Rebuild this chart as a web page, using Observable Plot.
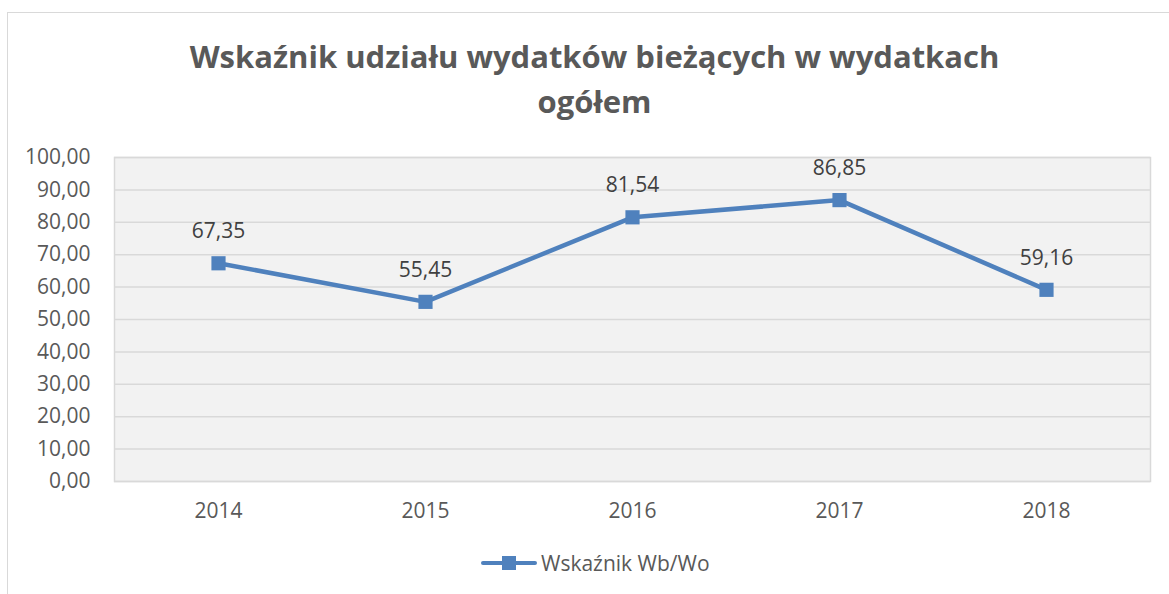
<!DOCTYPE html>
<html>
<head>
<meta charset="utf-8">
<script src="https://cdn.jsdelivr.net/npm/d3@7"></script>
<script src="https://cdn.jsdelivr.net/npm/@observablehq/plot@0.6"></script>
<style>
  html, body { margin: 0; padding: 0; background: #fff; }
  #wrap { position: relative; width: 1169px; height: 594px; overflow: hidden; font-family: "Open Sans", sans-serif; }
  #border { position: absolute; left: 7px; top: 12px; width: 1200px; height: 700px; border: 1.5px solid #d9d9d9; box-sizing: border-box; }
  #title { position: absolute; left: 10px; width: 1169px; top: 34px; text-align: center; font-weight: bold; font-size: 31px; line-height: 45px; color: #595959; }
  #chart { position: absolute; left: 0; top: 130px; }
  #legend { position: absolute; top: 550px; left: 481px; height: 26px; display: flex; align-items: center; font-size: 21px; color: #595959; }
  #legend .sym { position: relative; width: 56px; height: 26px; margin-right: 4px; }
  #legend .ln { position: absolute; left: 0; right: 0; top: 11px; height: 4px; background: #4f81bd; border-radius: 2px; }
  #legend .sq { position: absolute; left: 21px; top: 6px; width: 14px; height: 14px; background: #4f81bd; }
</style>
</head>
<body>
<div id="wrap">
  <div id="border"></div>
  <div id="title">Wskaźnik udziału wydatków bieżących w wydatkach<br>ogółem</div>
  <div id="chart"></div>
  <div id="legend"><div class="sym"><div class="ln"></div><div class="sq"></div></div><span>Wskaźnik Wb/Wo</span></div>
</div>
<script>
const years = ["2014", "2015", "2016", "2017", "2018"];
const values = [67.35, 55.45, 81.54, 86.85, 59.16];
const yTicks = [0, 10, 20, 30, 40, 50, 60, 70, 80, 90, 100];

const data = years.map((y, i) => ({year: y, value: values[i]}));
const fmt = d => d.toFixed(2).replace(".", ",");
const color = "#4f81bd";

const chart = Plot.plot({
  width: 1169,
  height: 400,
  marginLeft: 114,
  marginRight: 19,
  marginTop: 27,
  marginBottom: 49,
  style: { fontFamily: "Open Sans, sans-serif", fontSize: "21px", color: "#595959", background: "transparent" },
  x: { type: "point", domain: years, padding: 0.5, label: null },
  y: { domain: [0, 100], label: null },
  marks: [
    Plot.frame({ fill: "#f2f2f2", stroke: "none" }),
    Plot.ruleY(yTicks, { stroke: "#d9d9d9", strokeWidth: 1.5 }),
    Plot.frame({ stroke: "#d9d9d9", strokeWidth: 1.5 }),
    Plot.axisY(yTicks, { tickSize: 0, tickPadding: 24, tickFormat: fmt, fill: "#595959", fontSize: 21, label: null }),
    Plot.axisX({ tickSize: 0, tickPadding: 22, fill: "#595959", fontSize: 21, label: null }),
    Plot.line(data, { x: "year", y: "value", stroke: color, strokeWidth: 4.5 }),
    Plot.dot(data, { x: "year", y: "value", symbol: "square", r: 8, fill: color, stroke: "none" }),
    Plot.text(data, { x: "year", y: "value", text: d => fmt(d.value), dy: -32, fill: "#404040", fontSize: 21 })
  ]
});
document.getElementById("chart").appendChild(chart);
</script>
</body>
</html>
